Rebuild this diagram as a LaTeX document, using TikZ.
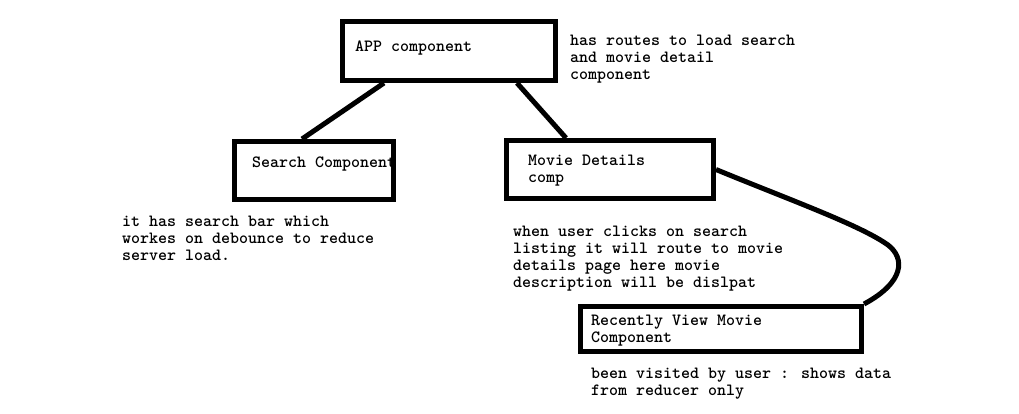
\documentclass[tikz,border=0pt]{standalone}
\usepackage{fontspec}
\tikzstyle{box}=[draw, rectangle, line width=5pt, inner sep=0pt]
\tikzstyle{note}=[anchor=base west, align=left, inner sep=0pt, font=\fontsize{17.14pt}{17pt}\selectfont\ttfamily\bfseries]
\tikzstyle{link}=[line width=5pt]

\begin{document}
\begin{tikzpicture}[x=1pt, y=-1pt]
                    \useasboundingbox (0,0) rectangle (1019,413);
                    \node[box, minimum width=213pt, minimum height=59pt] (app)    at (449, 51)    {};
                    \node[box, minimum width=159pt, minimum height=58pt] (search) at (314, 170.5) {};
                    \node[box, minimum width=207pt, minimum height=58pt] (movie)  at (610, 169.5) {};
                    \node[box, minimum width=281pt, minimum height=45pt] (recent) at (721, 329)   {};
                    \node[note] (apptxt)    at (355, 51)  {APP component};
                    \node[note] (appnote)   at (570, 79)  {has routes to load search\\and movie detail\\component};
                    \node[note] (searchtxt) at (252, 167) {Search Component};
                    \node[note] (searchnote) at (122, 260) {it has search bar which\\workes on debounce to reduce\\server load.};
                    \node[note] (movietxt)  at (528, 182) {Movie Details\\comp};
                    \node[note] (movienote) at (513, 287) {when user clicks on search\\listing it will route to movie\\details page here movie\\description will be dislpat};
                    \node[note] (recenttxt) at (591, 342) {Recently View Movie\\Component};
                    \node[note] (recentnote) at (591, 395) {been visited by user : shows data\\from reducer only};
                    \draw[link] ([xshift=44pt]app.south west) -- ([xshift=70pt]search.north west);
                    \draw[link] ([xshift=177pt]app.south west) -- ([xshift=62pt]movie.north west);
                    \draw[link] (movie.east) .. controls (790,200) and (860,225) .. (888,245)
                                .. controls (905,258) and (905,282) .. (recent.north east);
                \end{tikzpicture}
\end{document}
